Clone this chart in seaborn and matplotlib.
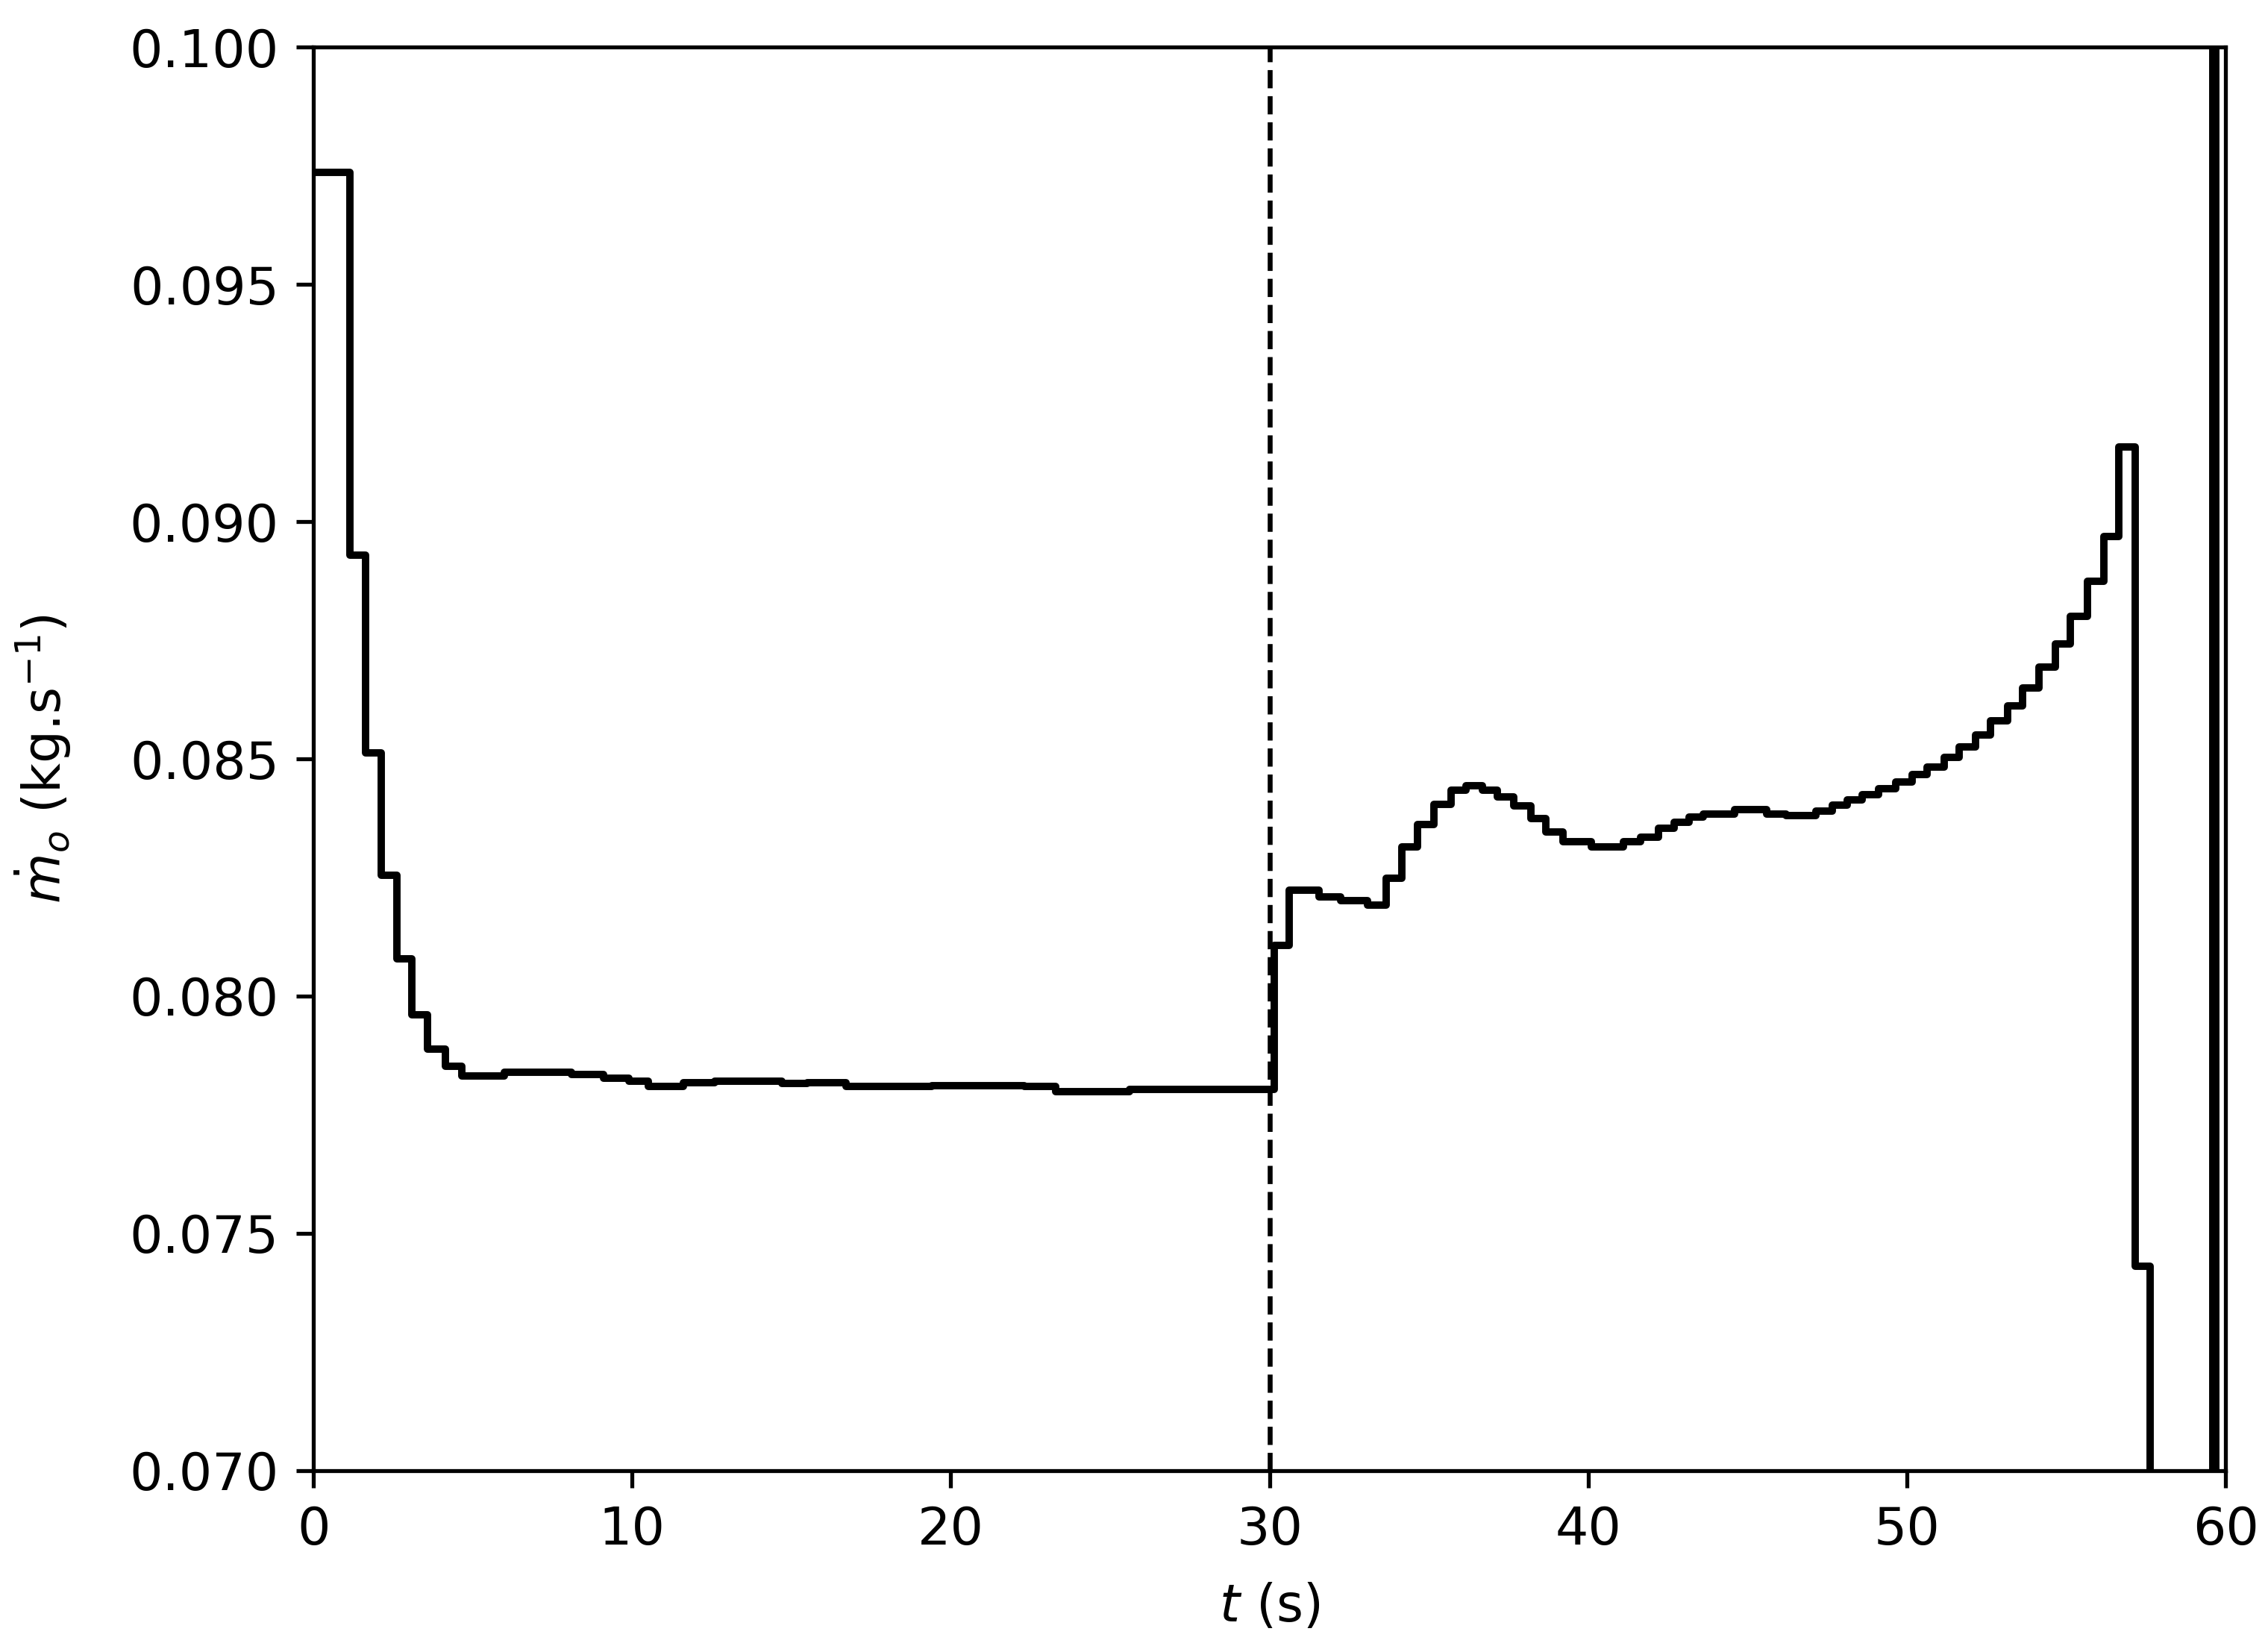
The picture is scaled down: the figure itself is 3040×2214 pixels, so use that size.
import matplotlib
matplotlib.use("Agg")
import matplotlib.pyplot as plt
import seaborn as sns
import pandas as pd

# Step start times (s) and the oxidiser mass flow held from each time (kg/s)
t_steps = [0.0, 1.14, 1.63, 2.12, 2.61, 3.09, 3.58, 4.14, 4.65, 6.0, 8.1, 9.1,
           9.9, 10.5, 11.6, 12.6, 14.7, 15.5, 16.7, 19.4, 22.3, 23.3, 25.6,
           30.15, 30.62, 31.56, 32.23, 33.07, 33.65, 34.15, 34.65, 35.16,
           35.7, 36.17, 36.69, 37.15, 37.67, 38.2, 38.67, 39.2, 40.1, 41.1,
           41.65, 42.2, 42.7, 43.16, 43.6, 44.6, 45.6, 46.2, 47.15, 47.66,
           48.13, 48.6, 49.1, 49.65, 50.17, 50.64, 51.16, 51.64, 52.16, 52.63,
           53.16, 53.63, 54.15, 54.66, 55.13, 55.67, 56.18, 56.65, 57.16,
           57.63, 59.6, 59.7]
mdot = [0.09736, 0.08929, 0.08513, 0.08255, 0.08079, 0.07961, 0.07888,
        0.07852, 0.07832, 0.07840, 0.07835, 0.07827, 0.07820, 0.07810,
        0.07818, 0.07820, 0.07816, 0.07818, 0.07810, 0.07811, 0.07810,
        0.07798, 0.07803,
        0.08107, 0.08223, 0.08209, 0.08201, 0.08192, 0.08249, 0.08314,
        0.08362, 0.08404, 0.08434, 0.08443, 0.08434, 0.08420, 0.08401,
        0.08374, 0.08346, 0.08325, 0.08314, 0.08325, 0.08335, 0.08354,
        0.08367, 0.08377, 0.08383, 0.08393, 0.08384, 0.08381, 0.08390,
        0.08402, 0.08413, 0.08425, 0.08437, 0.08452, 0.08467, 0.08483,
        0.08503, 0.08525, 0.08550, 0.08580, 0.08612, 0.08649, 0.08693,
        0.08742, 0.08801, 0.08875, 0.08969, 0.09157, 0.07430,
        0.06000, 0.15000, 0.00000]

x_ticks = [0, 10, 20, 30, 40, 50, 60]
y_ticks = [0.070, 0.075, 0.080, 0.085, 0.090, 0.095, 0.100]
t_switch = 30.0

df = pd.DataFrame({"t": t_steps, "mdot": mdot})

fig = plt.figure(figsize=(3040 / 475, 2214 / 475), dpi=475)
ax = fig.add_subplot(111)
fig.subplots_adjust(left=0.1382, right=0.9813, bottom=0.1098, top=0.9715)

sns.lineplot(data=df, x="t", y="mdot", drawstyle="steps-post", color="black",
             linewidth=1.5, estimator=None, sort=False, ax=ax)
ax.axvline(t_switch, color="black", linestyle="--", linewidth=1.0)

ax.set_xlim(0, 60)
ax.set_ylim(0.070, 0.100)
ax.set_xticks(x_ticks)
ax.set_yticks(y_ticks)
ax.set_yticklabels([f"{v:.3f}" for v in y_ticks])
ax.tick_params(labelsize=10.6)
ax.set_xlabel(r"$t$ (s)", fontsize=10.5, labelpad=5.5)
ax.set_ylabel(r"$\dot{m}_o$ (kg.s$^{-1}$)", fontsize=10.5, labelpad=11.5)

fig.savefig("out.png", dpi=475)
